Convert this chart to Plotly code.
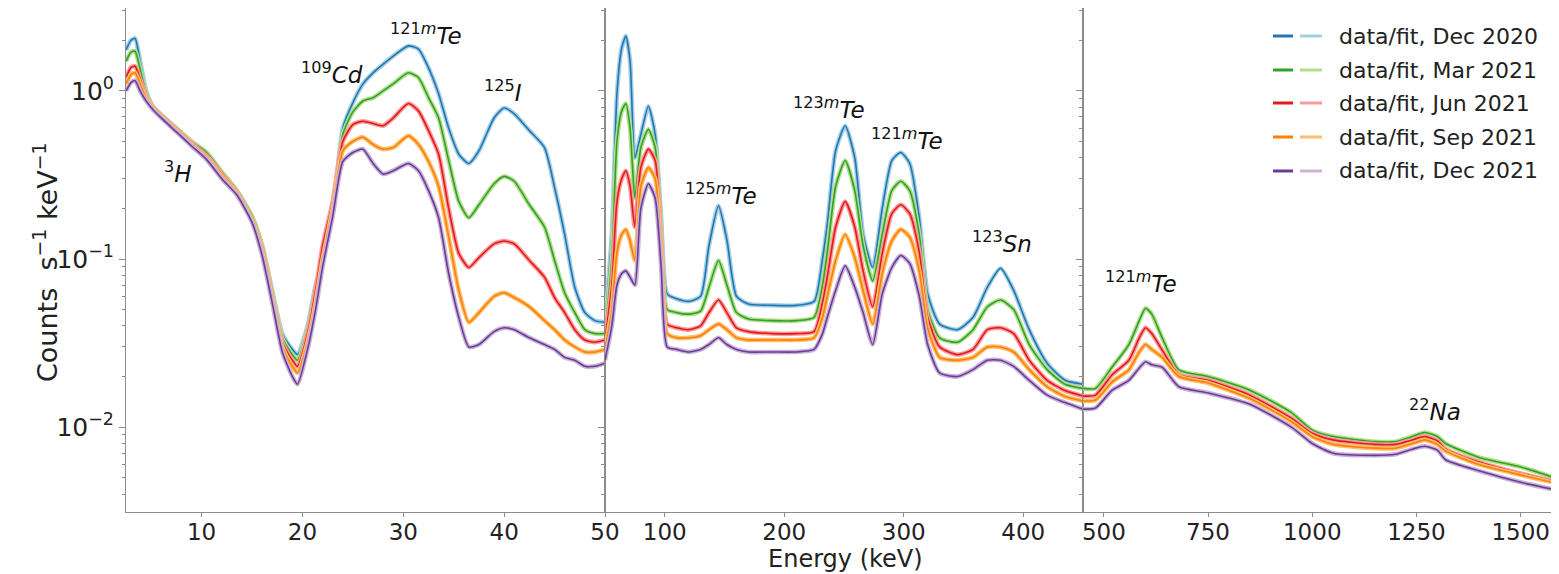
import plotly.graph_objects as go

# ---------------- data ----------------
dates = ["Dec 2020", "Mar 2021", "Jun 2021", "Sep 2021", "Dec 2021"]
data_colors = ["#1f78b4", "#33a02c", "#e31a1c", "#ff7f00", "#6a3d9a"]
fit_colors = ["#a6cee3", "#b2df8a", "#fb9a99", "#fdbf6f", "#cab2d6"]

# panel 1: 2.5 - 50 keV
E_low = [2.5, 3.0, 3.4, 3.9, 4.5, 5.2, 6.0, 7.5, 9.0, 10.5, 12.0, 13.5, 15.0, 16.0, 17.0,
         18.0, 19.0, 19.5, 20.5, 21.3, 22.0, 23.0, 24.0, 25.0, 26.0, 27.0, 28.0, 29.0, 30.5,
         31.5, 32.5, 33.5, 34.5, 35.5, 36.5, 37.5, 39.0, 40.0, 41.0, 42.5, 44.0, 45.0, 46.0,
         47.0, 48.0, 49.0, 50.0]
dec20_low = [1.75, 2.0, 2.05, 1.5, 1.0, 0.8, 0.72, 0.59, 0.49, 0.41, 0.32, 0.25, 0.175, 0.12, 0.065,
             0.036, 0.029, 0.027, 0.040, 0.07, 0.10, 0.19, 0.60, 0.85, 1.10, 1.28, 1.44, 1.61, 1.85,
             1.77, 1.37, 0.96, 0.60, 0.42, 0.37, 0.44, 0.69, 0.79, 0.73, 0.58, 0.46, 0.266, 0.14,
             0.068, 0.048, 0.043, 0.042]
mar21_low = [1.5, 1.7, 1.72, 1.35, 0.97, 0.8, 0.72, 0.6, 0.5, 0.43, 0.33, 0.255, 0.18, 0.12, 0.063,
             0.034, 0.027, 0.025, 0.038, 0.065, 0.11, 0.19, 0.55, 0.75, 0.87, 0.91, 1.0, 1.1, 1.28,
             1.2, 0.91, 0.69, 0.385, 0.22, 0.176, 0.21, 0.28, 0.31, 0.29, 0.21, 0.155, 0.098, 0.063,
             0.048, 0.038, 0.036, 0.036]
jun21_low = [1.2, 1.38, 1.4, 1.18, 0.93, 0.79, 0.71, 0.59, 0.49, 0.41, 0.32, 0.25, 0.17, 0.115, 0.06,
             0.032, 0.025, 0.023, 0.036, 0.065, 0.12, 0.22, 0.50, 0.63, 0.66, 0.64, 0.62, 0.69, 0.84,
             0.76, 0.58, 0.42, 0.20, 0.108, 0.089, 0.102, 0.123, 0.128, 0.123, 0.098, 0.078, 0.059,
             0.048, 0.038, 0.033, 0.032, 0.033]
sep21_low = [1.1, 1.25, 1.28, 1.1, 0.9, 0.78, 0.7, 0.58, 0.48, 0.40, 0.31, 0.245, 0.17, 0.11, 0.058,
             0.03, 0.023, 0.021, 0.032, 0.055, 0.10, 0.20, 0.44, 0.50, 0.53, 0.48, 0.45, 0.46, 0.54,
             0.48, 0.38, 0.27, 0.135, 0.065, 0.042, 0.048, 0.06, 0.063, 0.059, 0.052, 0.043, 0.038,
             0.033, 0.03, 0.028, 0.028, 0.029]
dec21_low = [1.0, 1.12, 1.15, 1.0, 0.87, 0.77, 0.69, 0.57, 0.47, 0.39, 0.30, 0.24, 0.165, 0.105, 0.055,
             0.028, 0.02, 0.018, 0.029, 0.05, 0.09, 0.18, 0.38, 0.43, 0.45, 0.37, 0.32, 0.335, 0.37,
             0.335, 0.255, 0.176, 0.082, 0.045, 0.03, 0.031, 0.037, 0.039, 0.038, 0.034, 0.031, 0.029,
             0.026, 0.025, 0.023, 0.023, 0.024]

# panel 2: 50 - 450 keV
E_mid = [50, 55.7, 60, 64, 67.5, 71, 75, 80, 86.3, 92, 97, 102, 110, 120, 130, 137, 145, 152, 160,
         170, 190, 210, 225, 232, 236, 243, 251, 259, 266, 274, 282, 290, 297.5, 305, 313, 320, 330,
         345, 358, 370, 381, 392, 405, 420, 435, 450]
dec20_mid = [0.042, 0.14, 0.96, 1.8, 2.12, 1.5, 0.4, 0.55, 0.81, 0.55, 0.176, 0.062, 0.058, 0.056, 0.06,
             0.12, 0.207, 0.13, 0.06, 0.054, 0.053, 0.053, 0.056, 0.1, 0.16, 0.44, 0.62, 0.4, 0.14,
             0.089, 0.2, 0.385, 0.43, 0.37, 0.176, 0.062, 0.041, 0.038, 0.045, 0.068, 0.088, 0.065,
             0.038, 0.024, 0.019, 0.018]
mar21_mid = [0.036, 0.1, 0.5, 0.76, 0.84, 0.6, 0.23, 0.46, 0.59, 0.46, 0.15, 0.05, 0.048, 0.047, 0.049,
             0.068, 0.098, 0.07, 0.048, 0.044, 0.043, 0.043, 0.045, 0.07, 0.11, 0.27, 0.385, 0.255,
             0.12, 0.074, 0.14, 0.255, 0.29, 0.255, 0.14, 0.05, 0.034, 0.032, 0.038, 0.052, 0.057,
             0.05, 0.031, 0.022, 0.018, 0.017]
jun21_mid = [0.033, 0.07, 0.22, 0.3, 0.335, 0.27, 0.155, 0.35, 0.45, 0.385, 0.13, 0.041, 0.039, 0.038,
             0.04, 0.048, 0.057, 0.048, 0.039, 0.037, 0.036, 0.036, 0.037, 0.055, 0.078, 0.155, 0.22,
             0.155, 0.085, 0.052, 0.108, 0.186, 0.21, 0.186, 0.11, 0.045, 0.03, 0.027, 0.029, 0.038,
             0.039, 0.036, 0.025, 0.019, 0.0165, 0.0153]
sep21_mid = [0.029, 0.05, 0.11, 0.14, 0.15, 0.128, 0.098, 0.27, 0.35, 0.3, 0.11, 0.036, 0.034, 0.034,
             0.035, 0.038, 0.041, 0.038, 0.034, 0.033, 0.033, 0.033, 0.034, 0.045, 0.06, 0.098, 0.14,
             0.102, 0.065, 0.041, 0.082, 0.128, 0.15, 0.135, 0.085, 0.039, 0.026, 0.025, 0.026, 0.03,
             0.03, 0.028, 0.022, 0.0174, 0.0152, 0.0143]
dec21_mid = [0.025, 0.04, 0.07, 0.082, 0.085, 0.078, 0.07, 0.2, 0.28, 0.23, 0.09, 0.03, 0.029, 0.028,
             0.029, 0.031, 0.034, 0.031, 0.029, 0.028, 0.028, 0.028, 0.029, 0.036, 0.045, 0.065, 0.091,
             0.068, 0.048, 0.031, 0.062, 0.089, 0.105, 0.094, 0.06, 0.031, 0.021, 0.02, 0.022, 0.025,
             0.025, 0.023, 0.019, 0.0155, 0.014, 0.0128]

# panel 3: 450 - 1590 keV (no Dec 2020 spectrum shown here)
E_high = [450, 480, 520, 560, 585, 600, 615, 640, 680, 750, 850, 950, 1000, 1050, 1150, 1200, 1240,
          1270, 1300, 1320, 1400, 1500, 1592]
mar21_high = [0.017, 0.017, 0.0228, 0.031, 0.043, 0.051, 0.047, 0.034, 0.0219, 0.020, 0.0166, 0.0122,
              0.0096, 0.0088, 0.0082, 0.0082, 0.0088, 0.0093, 0.0088, 0.008, 0.0066, 0.0058, 0.0049]
jun21_high = [0.0153, 0.0155, 0.0205, 0.025, 0.034, 0.039, 0.036, 0.0287, 0.0205, 0.019, 0.0155, 0.0113,
              0.0092, 0.0084, 0.0079, 0.0079, 0.0084, 0.0088, 0.0083, 0.0074, 0.0062, 0.0053, 0.0047]
sep21_high = [0.0143, 0.0145, 0.0186, 0.0219, 0.028, 0.031, 0.029, 0.026, 0.020, 0.0183, 0.0148, 0.0108,
              0.0088, 0.0079, 0.0075, 0.0075, 0.008, 0.0084, 0.0079, 0.0072, 0.006, 0.0052, 0.0046]
dec21_high = [0.0128, 0.013, 0.0166, 0.019, 0.0225, 0.0245, 0.0235, 0.0227, 0.0174, 0.016, 0.0137, 0.01,
              0.008, 0.007, 0.0068, 0.0069, 0.0074, 0.0077, 0.0073, 0.0064, 0.0055, 0.0047, 0.0042]

# peak labels
peak_labels = ["<sup>3</sup><i>H</i>", "<sup>109</sup><i>Cd</i>", "<sup>121<i>m</i></sup><i>Te</i>",
               "<sup>125</sup><i>I</i>", "<sup>125<i>m</i></sup><i>Te</i>", "<sup>123<i>m</i></sup><i>Te</i>",
               "<sup>121<i>m</i></sup><i>Te</i>", "<sup>123</sup><i>Sn</i>",
               "<sup>121<i>m</i></sup><i>Te</i>", "<sup>22</sup><i>Na</i>"]
peak_E = [7.7, 22.9, 32.2, 39.9, 147.2, 237.8, 303.1, 382, 589, 1294.5]
peak_logC = [-0.48, 0.107, 0.338, 0.0, -0.611, -0.101, -0.285, -0.896, -1.139, -1.899]
peak_panel = [1, 1, 1, 1, 2, 2, 2, 2, 3, 3]

# ---------------- figure ----------------
FONT = "DejaVu Sans"
OFF = 8                      # page body margin of the browser
W, H = 1559 - OFF, 574 - OFF
L, R, T, B = 126 - OFF, 0, 0, 62
pw = W - L - R
ph = H - T - B


def px(xp):
    return (xp - OFF - L) / pw


def py(yp):
    return (H - B - (yp - OFF)) / ph


d1 = px(605)
d2 = px(1083)

series = [
    (("x", "y"), E_low, [dec20_low, mar21_low, jun21_low, sep21_low, dec21_low]),
    (("x2", "y2"), E_mid, [dec20_mid, mar21_mid, jun21_mid, sep21_mid, dec21_mid]),
    (("x3", "y3"), E_high, [None, mar21_high, jun21_high, sep21_high, dec21_high]),
]

fig = go.Figure()
for (xa, ya), E, vals in series:
    for i, v in enumerate(vals):
        if v is None:
            continue
        fig.add_trace(go.Scatter(x=E, y=v, xaxis=xa, yaxis=ya, mode="lines",
                                 line=dict(color=fit_colors[i], width=4.5, shape="spline", smoothing=0.6),
                                 showlegend=False, hoverinfo="skip"))
        fig.add_trace(go.Scatter(x=E, y=v, xaxis=xa, yaxis=ya, mode="lines",
                                 line=dict(color=data_colors[i], width=1.6, shape="spline", smoothing=0.6),
                                 name="data " + dates[i], showlegend=False))

spine = "#8c8c8c"
xcommon = dict(showline=True, linecolor=spine, linewidth=1, mirror=True, ticks="outside",
               ticklen=4, tickcolor=spine, showgrid=False, zeroline=False, ticklabelstandoff=-5,
               tickfont=dict(family=FONT, size=23, color="#222"))
ymajor = [0.01, 0.1, 1]
yminor = [m * 10.0 ** d for d in (-3, -2, -1, 0) for m in range(2, 10)]
ycommon = dict(type="log", range=[-2.5045, 0.4926], showgrid=False, zeroline=False,
               showline=True, linecolor=spine, linewidth=1, ticks="outside", ticklen=6,
               tickcolor=spine, tickmode="array", tickvals=ymajor,
               ticktext=["10<sup>\u22122</sup>", "10<sup>\u22121</sup>", "10<sup>0</sup>"],
               minor=dict(ticks="outside", ticklen=3, tickcolor=spine, tickmode="array", tickvals=yminor))

fig.update_layout(
    width=W, height=H, margin=dict(l=L, r=R, t=T, b=B, autoexpand=False),
    paper_bgcolor="white", plot_bgcolor="white", showlegend=False,
    font=dict(family=FONT, color="#222"),
    xaxis=dict(domain=[0, d1], anchor="y", range=[2.5, 50], tickmode="array",
               tickvals=[10, 20, 30, 40, 50], **xcommon),
    xaxis2=dict(domain=[d1, d2], anchor="y2", range=[50, 450], tickmode="array",
                tickvals=[100, 200, 300, 400], **xcommon),
    xaxis3=dict(domain=[d2, 1], anchor="y3", range=[450, 1592], tickmode="array",
                tickvals=[500, 750, 1000, 1250, 1500], **xcommon),
    yaxis=dict(anchor="x", mirror=True, tickfont=dict(family=FONT, size=25, color="#222"), **ycommon),
    yaxis2=dict(anchor="x2", matches="y", showticklabels=False, mirror=True, **ycommon),
    yaxis3=dict(anchor="x3", matches="y", showticklabels=False, mirror=False, **ycommon),
)

annotations = []
for txt, e, lc, p in zip(peak_labels, peak_E, peak_logC, peak_panel):
    sfx = "" if p == 1 else str(p)
    annotations.append(dict(text=txt, x=e, y=lc, xref="x" + sfx, yref="y" + sfx,
                            showarrow=False, font=dict(family=FONT, size=23, color="#111"),
                            xanchor="center", yanchor="middle"))

# axis titles
annotations.append(dict(text="Counts  s<sup>\u22121</sup> keV<sup>\u22121</sup>", x=px(45), y=py(262),
                        xref="paper", yref="paper", showarrow=False, textangle=-90,
                        font=dict(family=FONT, size=27, color="#222"), xanchor="center", yanchor="middle"))
annotations.append(dict(text="Energy (keV)", x=px(845), y=py(559), xref="paper", yref="paper",
                        showarrow=False, font=dict(family=FONT, size=24, color="#222"),
                        xanchor="center", yanchor="middle"))

# legend (two line samples per entry: data / fit)
shapes = []
row_y = [36, 70, 103, 137, 171]
for i, d in enumerate(dates):
    yy = py(row_y[i])
    shapes.append(dict(type="line", xref="paper", yref="paper", x0=px(1273), x1=px(1293), y0=yy, y1=yy,
                       line=dict(color=data_colors[i], width=3)))
    shapes.append(dict(type="line", xref="paper", yref="paper", x0=px(1300), x1=px(1322), y0=yy, y1=yy,
                       line=dict(color=fit_colors[i], width=3)))
    annotations.append(dict(text="data/fit, " + d, x=px(1337), y=yy, xref="paper", yref="paper",
                            showarrow=False, xanchor="left", yanchor="middle",
                            font=dict(family=FONT, size=22, color="#222")))

fig.update_layout(annotations=annotations, shapes=shapes)
fig.write_html("out.html")
